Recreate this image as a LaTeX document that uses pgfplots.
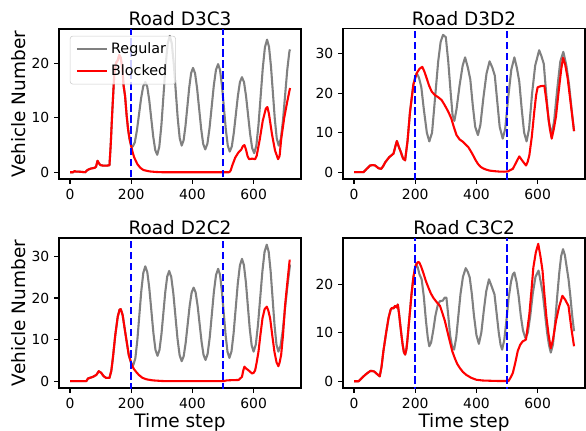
\documentclass[border=0pt]{standalone}
\usepackage{fontspec}
\setmainfont{DejaVu Sans}
\usepackage{pgfplots}
\pgfplotsset{compat=1.18}

% shared look of the four panels
\pgfplotsset{
  panel/.style={
    scale only axis, width=174.24pt, height=108pt,
    xmin=-35.95, xmax=754.95, xtick={0,200,400,600},
    tick pos=left, tick align=outside, major tick length=3.5pt,
    tick style={black, line width=0.8pt},
    axis line style={line width=0.8pt},
    /pgf/number format/assume math mode=true,
    tick label style={font=\fontsize{10}{12}\selectfont},
    title style={font=\fontsize{13.3}{16}\selectfont, yshift=-7.5pt},
    label style={font=\fontsize{13.3}{16}\selectfont},
    xlabel style={yshift=3.5pt},
    ylabel style={yshift=-3pt},
    clip=true,
  },
  reg/.style={color=gray, line width=1.5pt, line join=round},
  blk/.style={color=red, line width=1.5pt, line join=round},
  vline/.style={color=blue, line width=1.5pt, dash pattern=on 5.5pt off 2.4pt, forget plot},
}

\begin{document}
\begin{tikzpicture}
\useasboundingbox (0,0) rectangle (421.9pt,-310.3pt);

% ---------- Road D3C3 ----------
\begin{axis}[panel, at={(42.48pt,-128.88pt)}, anchor=south west,
  title={Road D3C3}, ylabel={Vehicle Number},
  ymin=-1.25, ymax=26.36, ytick={0,10,20},
  legend style={at={(0.045,0.955)}, anchor=north west, draw=black!20,
    rounded corners=2pt, fill=white, fill opacity=0.8, text opacity=1,
    font=\fontsize{10.3}{12.4}\selectfont, inner xsep=4pt, inner ysep=3pt, row sep=2pt},
  legend cell align=left,
  legend image code/.code={\draw[#1] (0pt,0pt) -- (22pt,0pt);},
]
\addplot[reg] coordinates {(0,0) (10,0) (15,0.2) (20,0.1) (30,0.1) (50,0) (55,0.3) (60,0.5) (70,0.7) (80,0.8) (85,1.0) (90,2.1) (95,1.6) (100,1.3) (110,1.2) (120,1.2) (129,1.3) (133,5) (138,11) (145,18.4) (151,20.2) (156,20.6) (161,21.6) (166,21.0) (171,19) (175,16) (180,14) (185,10.5) (190,7.8) (195,6) (200,4.8) (205,4.7)
 (211.8,5.5) (218.7,7.7) (225.5,10.65) (232.3,13.6) (239.2,15.8) (246,16.6)
 (252.5,15.7) (259,13.25) (265.5,9.9) (272,6.55) (278.5,4.1) (285,3.2)
 (291.8,4.67) (298.7,8.68) (305.5,14.15) (312.3,19.63) (319.2,23.63) (326,25.1)
 (332.5,23.75) (339,20.05) (345.5,15.0) (352,9.95) (358.5,6.25) (365,4.9)
 (371.2,5.86) (377.3,8.48) (383.5,12.05) (389.7,15.63) (395.8,18.24) (402,19.2)
 (408.7,18.2) (415.3,15.45) (422,11.7) (428.7,7.95) (435.3,5.2) (442,4.2)
 (449,5.25) (456,8.13) (463,12.05) (470,15.98) (477,18.85) (484,19.9)
 (490.3,18.8) (496.7,15.88) (503,11.85) (509.3,7.83) (515.7,4.88) (522,3.8)
 (528.7,4.72) (535.3,7.23) (542,10.65) (548.7,14.08) (555.3,16.58) (562,17.5)
 (568.7,16.56) (575.3,14.0) (582,10.5) (588.7,7.0) (595.3,4.44) (602,3.5)
 (609,4.9) (616,8.73) (623,13.95) (630,19.18) (637,23.0) (644,24.4)
 (650.3,23.1) (656.7,19.53) (663,14.65) (669.3,9.78) (675.7,6.2) (682,4.9)
 (689,6.15) (696,9.55) (703,14.2) (710,18.85) (717,22.25) (719,22.6)};
\addlegendentry{Regular}
\addplot[blk] coordinates {(0,0) (10,0) (15,0.2) (20,0.1) (30,0.1) (50,0) (55,0.3) (60,0.5) (70,0.7) (80,0.8) (85,1.0) (90,2.1) (95,1.6) (100,1.3) (110,1.2) (120,1.2) (129,1.3) (133,5) (138,11) (145,18.4) (151,20.2) (156,20.6) (161,21.6) (166,21.0) (171,19) (175,16) (180,14) (185,10.5) (190,7.8) (195,6) (200,4.8) (205,3.6) (210,2.7) (220,1.5) (230,0.8) (240,0.4) (260,0.15) (280,0.05) (300,0) (520,0) (525,0.3) (530,1.2) (540,2.7) (550,3.6) (560,4.2) (565,4.8) (570,5.0) (575,4.2) (580,3.0) (585,2.4) (595,2.5) (605,2.4) (610,3) (620,6) (630,9.5) (640,11.7) (645,12.0) (650,10.8) (660,7) (670,4) (680,2.4) (685,3) (690,6) (700,10) (710,13) (719,15.5)};
\addlegendentry{Blocked}
\addplot[vline] coordinates {(200,-5) (200,40)};
\addplot[vline] coordinates {(500,-5) (500,40)};
\end{axis}

% ---------- Road D3D2 ----------
\begin{axis}[panel, at={(246.96pt,-128.88pt)}, anchor=south west,
  title={Road D3D2},
  ymin=-1.73, ymax=36.3, ytick={0,10,20,30},
]
\addplot[reg] coordinates {(0,0) (31,0) (42,0.9) (53,1.7) (62,1.8) (69,1.7) (80,1.0) (89,0.85) (95,1.5) (102,2.5) (115,3.8) (129,4.7) (135,6.5) (140,7.9) (146,6.5) (153,5.1) (160,3.5) (167,3.0) (175,8) (183,15.3) (194,22.2) (200,24.2) (205,25.1) (212,24) (220,21.5) (228,16) (238,10) (246,7.8) (255,10) (265,19) (275,28) (283,33) (291,34.8) (300,34.2) (308,28) (316,20) (322,14.5) (328,13.0) (335,16) (345,22) (355,27) (363,29.1) (372,26.5) (380,23.5) (388,17) (396,11.5) (405,9.4) (413,12) (423,19) (433,25) (443,28.1) (452,26.5) (460,24.5) (468,18) (476,11.5) (486,8.5) (494,11) (504,19) (514,26) (524,29.1) (532,26.5) (540,23) (548,16) (556,10) (564,7.8) (572,11) (582,20) (592,27) (605,30.9) (612,29.5) (620,27.5) (628,20) (636,13) (646,9.5) (654,13) (664,21) (674,28) (684,30.5) (694,27) (703,22) (711,16) (719,10.4)};
\addplot[blk] coordinates {(0,0) (31,0) (42,0.9) (53,1.7) (62,1.8) (69,1.7) (80,1.0) (89,0.85) (95,1.5) (102,2.5) (115,3.8) (129,4.7) (135,6.5) (140,7.9) (146,6.5) (153,5.1) (160,3.5) (167,3.0) (175,8) (183,15.3) (194,22.2) (205,25.1) (214,26.2) (223,26.7) (230,25.5) (237,23.9) (245,22) (254,20.4) (265,19.5) (275,19.0) (286,18.3) (294,17.3) (302,16.2) (310,15) (318,13.6) (326,11.5) (335,9.4) (345,8.3) (356,7.7) (365,7.0) (373,6.4) (381,5.4) (389,4.3) (397,3.1) (405,2.1) (413,1.4) (421,1.0) (430,0.7) (443,0.4) (460,0.25) (475,0.15) (490,0.12) (503,0.2) (510,0.5) (519,0.85) (530,2.5) (540,4.0) (551,2.8) (562,1.7) (567,2.5) (573,4.3) (581,9) (589,15.3) (595,19.5) (600,21.5) (610,21.8) (622,21.9) (628,18.5) (633,15.3) (640,11) (646,8.5) (653,11) (660,14.1) (665,17.8) (670,21.3) (677,26) (683,29.0) (690,27.3) (698,23.9) (708,17.5) (719,10.4)};
\addplot[vline] coordinates {(200,-5) (200,40)};
\addplot[vline] coordinates {(500,-5) (500,40)};
\end{axis}

% ---------- Road D2C2 ----------
\begin{axis}[panel, at={(42.48pt,-279.36pt)}, anchor=south west,
  title={Road D2C2}, ylabel={Vehicle Number}, xlabel={Time step},
  ymin=-1.64, ymax=34.4, ytick={0,10,20,30},
]
\addplot[reg] coordinates {(0,0) (53,0) (59,0.65) (75,1.05) (86,1.5) (94,2.4) (102,2.0) (110,1.2) (118,0.8) (129,0.8) (135,2.5) (140,5.5) (148,11.1) (156,15.5) (162,17.2) (166,17.3) (172,15.9) (181,11.5) (192,6.3) (200,4.3) (207,3.9)
 (213.5,5.49) (220,9.83) (226.5,15.75) (233,21.68) (239.5,26.01) (246,27.6)
 (252.7,26.16) (259.3,22.23) (266,16.85) (272.7,11.48) (279.3,7.54) (286,6.1)
 (292.3,7.47) (298.7,11.2) (305,16.3) (311.3,21.4) (317.7,25.13) (324,26.5)
 (330.8,25.05) (337.7,21.08) (344.5,15.65) (351.3,10.23) (358.2,6.25) (365,4.8)
 (371.5,5.99) (378,9.23) (384.5,13.65) (391,18.08) (397.5,21.31) (404,22.5)
 (410.5,21.33) (417,18.15) (423.5,13.8) (430,9.45) (436.5,6.27) (443,5.1)
 (449.8,6.57) (456.7,10.58) (463.5,16.05) (470.3,21.53) (477.2,25.53) (484,27.0)
 (490.2,25.57) (496.3,21.65) (502.5,16.3) (508.7,10.95) (514.8,7.03) (521,5.6)
 (527.8,7.19) (534.7,11.55) (541.5,17.5) (548.3,23.45) (555.2,27.81) (562,29.4)
 (568.3,27.91) (574.7,23.83) (581,18.25) (587.3,12.68) (593.7,8.59) (600,7.1)
 (607.2,8.82) (614.3,13.53) (621.5,19.95) (628.7,26.38) (635.8,31.08) (643,32.8)
 (649.3,31.08) (655.7,26.38) (662,19.95) (668.3,13.53) (674.7,8.82) (681,7.1)
 (688,8.5) (695,12) (702,17) (710,22.5) (719,28)};
\addplot[blk] coordinates {(0,0) (53,0) (59,0.65) (75,1.05) (86,1.5) (94,2.4) (102,2.0) (110,1.2) (118,0.8) (129,0.8) (135,2.5) (140,5.5) (148,11.1) (156,15.5) (162,17.2) (166,17.3) (172,15.9) (181,11.5) (192,6.3) (202,3.9) (209,2.9) (216,2.25) (225,1.5) (237,0.8) (250,0.45) (270,0.2) (300,0.05) (320,0) (500,0) (513,0.2) (530,0.25) (551,0.3) (562,1.05) (566,2.5) (570,3.5) (576,3.0) (582,2.7) (595,1.85) (600,2.0) (605,2.6) (610,4.5) (616,7.1) (622,11) (629,15.1) (636,17.3) (643,17.9) (648,17.0) (654,15.1) (661,11) (668,7.1) (675,4.5) (681,3.6) (685,4.5) (690,6.3) (696,11) (703,18.3) (710,23.5) (718,29.2)};
\addplot[vline] coordinates {(200,-5) (200,40)};
\addplot[vline] coordinates {(500,-5) (500,40)};
\end{axis}

% ---------- Road C3C2 ----------
\begin{axis}[panel, at={(246.96pt,-279.36pt)}, anchor=south west,
  title={Road C3C2}, xlabel={Time step},
  ymin=-1.4, ymax=29.5, ytick={0,10,20},
]
\addplot[reg] coordinates {(0,0) (15,0) (31,1.0) (42,1.6) (53,2.1) (60,2.1) (66,2.0) (75,1.5) (84,1.0) (90,3) (96,6.2) (105,10) (113,13.1) (120,14.8) (124,15.1) (129,15.0) (134,15.5) (139,15.2) (143,15.8) (147,14) (151,11.7) (155,9.5) (159,7.5) (163,6.0) (167,5.5) (171,6.5) (174,8.2) (178,11) (183,14.5) (188,18) (194,21.4) (199,23.2) (203,24.2) (208,23.5) (214,22) (221,21.0) (228,17.5) (235,12.5) (241,9) (246,7.2) (252,8) (259,10.5) (266,13.5) (274,15.8) (281,16.5) (290,16.6) (296,17.2) (302,17.2) (308,13.5) (314,9.5) (320,7.3) (327,6.5) (334,9) (341,13.5) (348,18) (356,21.5) (365,23.3) (372,22.5) (378,21.4) (385,18) (392,13.5) (400,9.5) (408,7.7) (416,10) (424,14.5) (432,18.5) (441,21.0) (450,19.5) (459,17.9) (466,14) (473,10) (479,7.5) (484,6.5) (491,8.5) (498,12.5) (505,17) (513,20.5) (519,22.0) (524,22.4) (531,20.5) (538,17.5) (545,13.5) (552,10.5) (560,8.9) (568,10) (576,13.5) (584,18) (593,21.5) (603,22.8) (610,20.5) (617,18) (624,14) (631,10) (637,7.5) (643,5.9) (650,7.5) (657,12) (664,17.5) (671,22.5) (677,25.8) (683,27.2) (689,26) (695,23.5) (701,21) (707,17.5) (713,13.5) (719,10.3)};
\addplot[blk] coordinates {(0,0) (15,0) (31,1.0) (42,1.6) (53,2.1) (60,2.1) (66,2.0) (75,1.5) (84,1.0) (90,3) (96,6.2) (105,10) (113,13.1) (120,14.8) (124,15.1) (129,15.0) (134,15.5) (139,15.2) (143,15.8) (147,14) (151,11.7) (155,9.5) (159,7.5) (163,6.0) (167,5.5) (171,6.5) (174,8.2) (178,11) (183,14.5) (188,18) (194,21.4) (199,23.2) (203,24.0) (208,24.5) (213,24.5) (220,23.5) (226,22.4) (235,20.6) (243,19.3) (251,18.1) (259,17.2) (270,16.3) (281,15.5) (289,14) (297,12.4) (305,10.3) (313,8.2) (321,6.2) (329,4.8) (337,3.6) (346,2.7) (356,1.9) (367,1.3) (383,0.7) (400,0.3) (420,0.15) (443,0.1) (470,0.05) (505,0.05) (512,0.8) (519,1.7) (527,3.8) (535,6.2) (543,7.5) (551,8.2) (557,8.4) (562,8.6) (567,11) (573,13.8) (580,18.8) (586,23.4) (594,26.5) (602,28.3) (609,25.8) (616,22.8) (622,18) (629,13.1) (636,9.5) (643,6.8) (650,8.5) (660,12.4) (670,15.3) (681,17.6) (690,16.8) (701,15.5) (710,11) (719,7.2)};
\addplot[vline] coordinates {(200,-5) (200,40)};
\addplot[vline] coordinates {(500,-5) (500,40)};
\end{axis}
\end{tikzpicture}
\end{document}
